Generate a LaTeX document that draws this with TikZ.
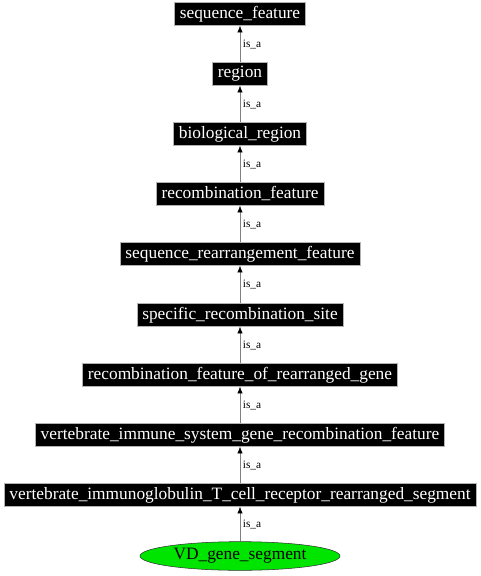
\documentclass[tikz,border=0pt]{standalone}
\usepackage{fontspec}
\setmainfont{Liberation Serif}
\usetikzlibrary{shapes.geometric,arrows.meta}

\tikzset{
  term/.style={draw=gray!60, fill=black, text=white, inner xsep=4pt, inner ysep=0pt,
    minimum height=17.25pt, font=\fontsize{13}{14}\selectfont},
  leaf/.style={ellipse, draw=black!80, fill=green!90!black, text=black, minimum width=150pt,
    minimum height=21.5pt, inner sep=0pt, font=\fontsize{13}{14}\selectfont},
  isa/.style={draw=gray, -{Latex[black, length=5pt, width=4pt]}},
  lbl/.style={right, font=\fontsize{8.5}{10}\selectfont, inner sep=2pt}
}

\begin{document}
\begin{tikzpicture}[x=0.75pt, y=-0.75pt]
  \useasboundingbox (0, 0) rectangle (480, 576);

  \node[term] (seqfeat) at (240, 14) {sequence\_feature};
  \node[term] (region) at (240, 74) {region};
  \node[term] (bioreg) at (240, 134) {biological\_region};
  \node[term] (recfeat) at (240, 194) {recombination\_feature};
  \node[term] (rearrfeat) at (240, 254) {sequence\_rearrangement\_feature};
  \node[term] (recsite) at (240, 315) {specific\_recombination\_site};
  \node[term] (recgene) at (240, 375) {recombination\_feature\_of\_rearranged\_gene};
  \node[term] (vertrec) at (240, 435) {vertebrate\_immune\_system\_gene\_recombination\_feature};
  \node[term] (vertseg) at (240, 495) {vertebrate\_immunoglobulin\_T\_cell\_receptor\_rearranged\_segment};
  \node[leaf] (vdgene) at (240, 556) {VD\_gene\_segment};

  \draw[isa] (region) -- node[lbl] {is\_a} (seqfeat);
  \draw[isa] (bioreg) -- node[lbl] {is\_a} (region);
  \draw[isa] (recfeat) -- node[lbl] {is\_a} (bioreg);
  \draw[isa] (rearrfeat) -- node[lbl] {is\_a} (recfeat);
  \draw[isa] (recsite) -- node[lbl] {is\_a} (rearrfeat);
  \draw[isa] (recgene) -- node[lbl] {is\_a} (recsite);
  \draw[isa] (vertrec) -- node[lbl] {is\_a} (recgene);
  \draw[isa] (vertseg) -- node[lbl] {is\_a} (vertrec);
  \draw[isa] (vdgene) -- node[lbl] {is\_a} (vertseg);
\end{tikzpicture}
\end{document}
